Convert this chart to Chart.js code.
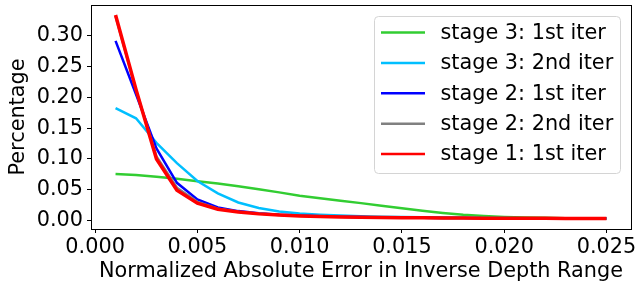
<!DOCTYPE html>
<html>
<head>
<meta charset="utf-8">
<script src="https://cdn.jsdelivr.net/npm/chart.js@4/dist/chart.umd.min.js"></script>
<style>
  html, body { margin: 0; padding: 0; background: #fff; }
  #wrap { width: 636px; height: 284px; position: relative; }
</style>
</head>
<body>
<div id="wrap"><canvas id="c" width="636" height="284"></canvas></div>
<script>
// ---- data ----
const errorBins = [0.001, 0.002, 0.003, 0.004, 0.005, 0.006, 0.007, 0.008, 0.009, 0.010,
                   0.011, 0.012, 0.013, 0.014, 0.015, 0.016, 0.017, 0.018, 0.019, 0.020,
                   0.021, 0.022, 0.023, 0.024, 0.025];
const stage3Iter1 = [0.0753, 0.0738, 0.0710, 0.0675, 0.0637, 0.0598, 0.0555, 0.0505, 0.0455, 0.0400,
                     0.0360, 0.0320, 0.0280, 0.0238, 0.0198, 0.0157, 0.0120, 0.0090, 0.0070, 0.0055,
                     0.0045, 0.0040, 0.0035, 0.0030, 0.0030];
const stage3Iter2 = [0.1825, 0.166, 0.126, 0.093, 0.064, 0.044, 0.029, 0.020, 0.0145, 0.011,
                     0.0090, 0.0077, 0.0067, 0.0060, 0.0054, 0.0049, 0.0045, 0.0042, 0.0039, 0.0037,
                     0.0035, 0.0033, 0.0032, 0.0031, 0.0030];
const stage2Iter1 = [0.292, 0.205, 0.117, 0.061, 0.034, 0.021, 0.015, 0.0115, 0.0092, 0.0077,
                     0.0066, 0.0058, 0.0053, 0.0048, 0.0045, 0.0042, 0.0039, 0.0037, 0.0035, 0.0034,
                     0.0033, 0.0032, 0.0031, 0.0030, 0.0030];
const stage2Iter2 = [0.332, 0.212, 0.104, 0.053, 0.030, 0.019, 0.014, 0.011, 0.0088, 0.0074,
                     0.0064, 0.0057, 0.0052, 0.0048, 0.0044, 0.0041, 0.0039, 0.0037, 0.0035, 0.0034,
                     0.0033, 0.0032, 0.0031, 0.0030, 0.0030];
const stage1Iter1 = [0.334, 0.213, 0.0997, 0.049, 0.028, 0.018, 0.0135, 0.0105, 0.0085, 0.0072,
                     0.0063, 0.0056, 0.0051, 0.0047, 0.0044, 0.0041, 0.0039, 0.0037, 0.0035, 0.0034,
                     0.0033, 0.0032, 0.0031, 0.0030, 0.0030];
const seriesLabels = ['stage 3: 1st iter', 'stage 3: 2nd iter', 'stage 2: 1st iter', 'stage 2: 2nd iter', 'stage 1: 1st iter'];
const xTicks = [0.000, 0.005, 0.010, 0.015, 0.020, 0.025];
const yTicks = [0.00, 0.05, 0.10, 0.15, 0.20, 0.25, 0.30];
const xTitle = 'Normalized Absolute Error in Inverse Depth Range';
const yTitle = 'Percentage';

// ---- styling ----
const FONT = "'DejaVu Sans', sans-serif";
const FS = 20.8;
const colors = ['#32cd32', '#00bfff', '#0000ff', '#808080', '#ff0000'];
const widths = [2.5, 2.5, 2.5, 2.5, 3.5];
const allSeries = [stage3Iter1, stage3Iter2, stage2Iter1, stage2Iter2, stage1Iter1];

const datasets = allSeries.map((s, i) => ({
  label: seriesLabels[i],
  data: s.map((v, j) => ({ x: errorBins[j], y: v })),
  borderColor: colors[i],
  backgroundColor: colors[i],
  borderWidth: widths[i],
  pointRadius: 0,
  tension: 0,
  fill: false,
  order: allSeries.length - i
}));

const framePlugin = {
  id: 'frame',
  afterDatasetsDraw(chart) {
    const { ctx, chartArea: a } = chart;
    ctx.save();
    ctx.strokeStyle = '#000';
    ctx.lineWidth = 1;
    ctx.strokeRect(Math.round(a.left) + 0.5, Math.round(a.top) + 0.5,
                   Math.round(a.right - a.left), Math.round(a.bottom - a.top));
    ctx.restore();
  }
};

const legendPlugin = {
  id: 'innerLegend',
  afterDraw(chart) {
    const ctx = chart.ctx;
    const x0 = 374.5, y0 = 16.5, w = 246, h = 157, r = 4;
    ctx.save();
    ctx.beginPath();
    ctx.moveTo(x0 + r, y0);
    ctx.lineTo(x0 + w - r, y0);
    ctx.quadraticCurveTo(x0 + w, y0, x0 + w, y0 + r);
    ctx.lineTo(x0 + w, y0 + h - r);
    ctx.quadraticCurveTo(x0 + w, y0 + h, x0 + w - r, y0 + h);
    ctx.lineTo(x0 + r, y0 + h);
    ctx.quadraticCurveTo(x0, y0 + h, x0, y0 + h - r);
    ctx.lineTo(x0, y0 + r);
    ctx.quadraticCurveTo(x0, y0, x0 + r, y0);
    ctx.closePath();
    ctx.fillStyle = 'rgba(255,255,255,0.8)';
    ctx.fill();
    ctx.strokeStyle = '#d4d4d4';
    ctx.lineWidth = 1;
    ctx.stroke();
    ctx.font = FS + 'px ' + FONT;
    ctx.textBaseline = 'middle';
    ctx.textAlign = 'left';
    chart.data.datasets.forEach((ds, i) => {
      const cy = 32.5 + i * 30.4;
      ctx.strokeStyle = ds.borderColor;
      ctx.lineWidth = 2.5;
      ctx.beginPath();
      ctx.moveTo(381, cy);
      ctx.lineTo(425, cy);
      ctx.stroke();
      ctx.fillStyle = '#000';
      ctx.fillText(ds.label, 440.5, cy + 1);
    });
    ctx.restore();
  }
};

new Chart(document.getElementById('c'), {
  type: 'line',
  data: { datasets },
  options: {
    responsive: false,
    animation: false,
    devicePixelRatio: 1,
    layout: { padding: { top: 5, right: 5, left: 0, bottom: 0 } },
    plugins: { legend: { display: false }, tooltip: { enabled: false } },
    scales: {
      x: {
        type: 'linear',
        min: -0.0002,
        max: 0.0262,
        afterBuildTicks(scale) { scale.ticks = xTicks.map(v => ({ value: v })); },
        afterFit(scale) { scale.height = 55; scale.paddingLeft = 0; scale.paddingRight = 0; },
        ticks: {
          color: '#000',
          font: { family: FONT, size: FS },
          padding: 2,
          maxRotation: 0,
          autoSkip: false,
          callback: v => Number(v).toFixed(3)
        },
        grid: { drawOnChartArea: false, drawTicks: true, tickLength: 4, color: '#000' },
        border: { display: true, color: '#000' },
        title: { display: true, text: xTitle, color: '#000', font: { family: FONT, size: FS }, padding: { top: 0, bottom: 0 } }
      },
      y: {
        type: 'linear',
        min: -0.0141,
        max: 0.3503,
        afterBuildTicks(scale) { scale.ticks = yTicks.map(v => ({ value: v })); },
        afterFit(scale) { scale.width = 91; scale.paddingTop = 0; scale.paddingBottom = 0; },
        ticks: {
          color: '#000',
          font: { family: FONT, size: FS },
          padding: 4,
          autoSkip: false,
          callback: v => Number(v).toFixed(2)
        },
        grid: { drawOnChartArea: false, drawTicks: true, tickLength: 4, color: '#000' },
        border: { display: true, color: '#000' },
        title: { display: true, text: yTitle, color: '#000', font: { family: FONT, size: FS }, padding: { top: 6, bottom: 2 } }
      }
    }
  },
  plugins: [framePlugin, legendPlugin]
});
</script>
</body>
</html>
